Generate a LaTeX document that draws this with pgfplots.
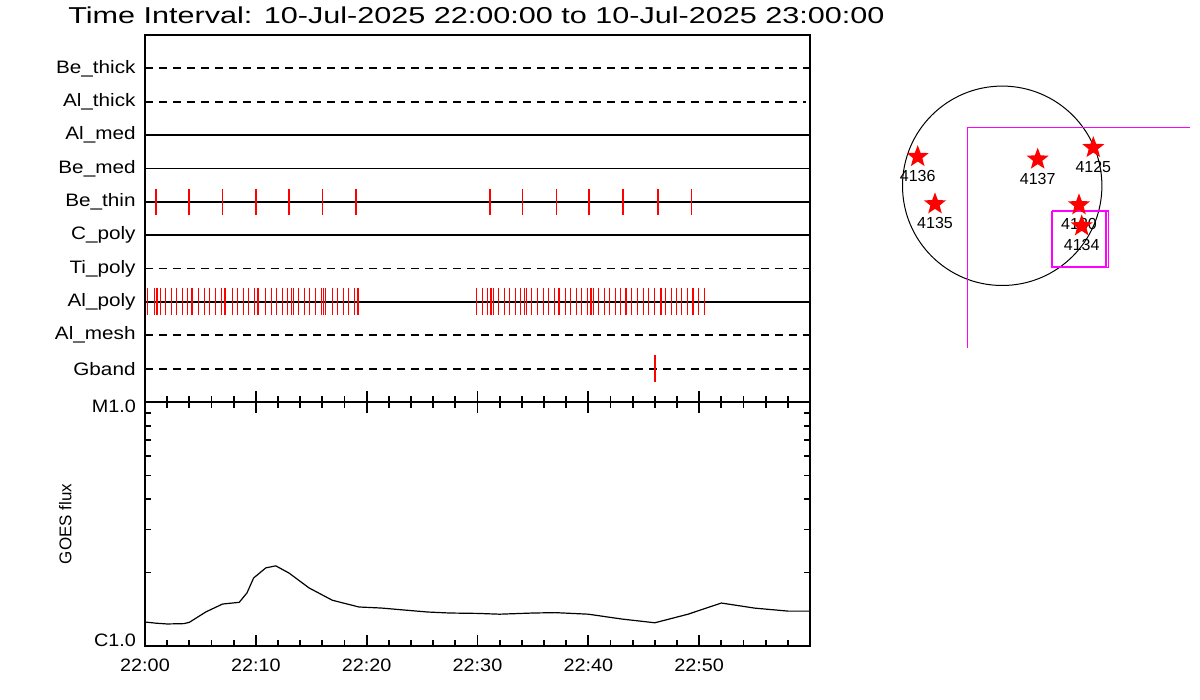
\documentclass[border=0pt]{standalone}
\usepackage{fontspec}
\setmainfont{Liberation Sans}
\usepackage{graphicx}
\usepackage{pgfplots}
\pgfplotsset{compat=1.18}
\definecolor{mag}{RGB}{255,0,255}
\pgfdeclareplotmark{fstar}{%
 \pgfpathmoveto{\pgfpointpolar{90}{\pgfplotmarksize}}%
 \pgfpathlineto{\pgfpointpolar{126}{0.42\pgfplotmarksize}}%
 \pgfpathlineto{\pgfpointpolar{162}{\pgfplotmarksize}}%
 \pgfpathlineto{\pgfpointpolar{198}{0.42\pgfplotmarksize}}%
 \pgfpathlineto{\pgfpointpolar{234}{\pgfplotmarksize}}%
 \pgfpathlineto{\pgfpointpolar{270}{0.42\pgfplotmarksize}}%
 \pgfpathlineto{\pgfpointpolar{306}{\pgfplotmarksize}}%
 \pgfpathlineto{\pgfpointpolar{342}{0.42\pgfplotmarksize}}%
 \pgfpathlineto{\pgfpointpolar{18}{\pgfplotmarksize}}%
 \pgfpathlineto{\pgfpointpolar{54}{0.42\pgfplotmarksize}}%
 \pgfpathclose
 \pgfusepathqfill
}
\newcommand{\lfont}{\fontsize{8.5}{10}\selectfont}
\newcommand{\rl}[1]{\scalebox{1.15}[1]{#1}}
\newcommand{\tl}[1]{\scalebox{1.1}[1]{#1}}
\begin{document}
\begin{tikzpicture}
\useasboundingbox (0,0) rectangle (600pt,350pt);
\node at (238.25pt,342.5pt) {\scalebox{1.33}[1]{\fontsize{11.5}{13}\selectfont Time Interval: 10-Jul-2025 22:00:00 to 10-Jul-2025 23:00:00}};
% ---------------- top panel
\begin{axis}[
  at={(72.5pt,149pt)}, anchor=south west, scale only axis,
  width=332.5pt, height=183.5pt,
  xmin=0, xmax=60, ymin=0, ymax=11,
  xtick={0,10,...,60}, minor x tick num=4, xtick pos=left, xticklabels=\empty,
  ytick={1,...,10},
  yticklabels={\rl{Gband},\rl{Al\_mesh},\rl{Al\_poly},\rl{Ti\_poly},\rl{C\_poly},\rl{Be\_thin},\rl{Be\_med},\rl{Al\_med},\rl{Al\_thick},\rl{Be\_thick}},
  ytick style={draw=none},
  yticklabel style={font=\fontsize{9}{10}\selectfont, xshift=-1.2pt},
  axis line style={line width=0.9pt},
  xtick style={black, line width=0.9pt},
  major tick length=5.5pt, minor tick length=3pt,
  /pgf/number format/assume math mode=true,
]
\addplot[black, line width=0.9pt, dash pattern=on 4pt off 3pt] coordinates {(0,10) (60,10)};
\addplot[black, line width=0.9pt, dash pattern=on 4pt off 3pt] coordinates {(0,9) (59.6,9)};
\addplot[black, line width=0.9pt] coordinates {(0,8) (60,8)};
\addplot[black, line width=0.9pt] coordinates {(0,7) (60,7)};
\addplot[black, line width=0.9pt] coordinates {(0,6) (60,6)};
\addplot[black, line width=0.9pt] coordinates {(0,5) (60,5)};
\addplot[black, line width=0.9pt, dash pattern=on 4pt off 3pt] coordinates {(0,4) (60,4)};
\addplot[black, line width=0.9pt] coordinates {(0,3) (60,3)};
\addplot[black, line width=0.9pt, dash pattern=on 4pt off 3pt] coordinates {(0,2) (60,2)};
\addplot[black, line width=0.9pt, dash pattern=on 4pt off 3pt] coordinates {(0,1) (60,1)};
% Be_thin events
\addplot[red, only marks, mark=|, mark size=6.5pt, mark options={line width=1pt}] coordinates {
 (1.0,6) (4.0,6) (10.0,6) (13.0,6) (19.0,6) (31.1,6) (40.1,6) (43.1,6) (46.3,6)};
\addplot[red, only marks, mark=|, mark size=6.5pt, mark options={line width=0.5pt}] coordinates {
 (7.0,6) (16.0,6) (34.1,6) (37.1,6) (49.3,6)};
% Al_poly events
\addplot[red, only marks, mark=|, mark size=6.7pt, mark options={line width=0.5pt}] coordinates {
 (0.27,3) (0.85,3) (1.39,3) (1.84,3) (2.35,3) (2.84,3) (3.34,3) (3.86,3) (4.19,3) (4.31,3)
 (4.85,3) (5.37,3) (5.84,3) (6.36,3) (6.87,3) (7.86,3) (8.37,3) (8.85,3) (9.37,3) (9.88,3)
 (10.88,3) (11.38,3) (11.87,3) (12.38,3) (12.89,3) (13.19,3) (13.37,3) (13.88,3) (14.4,3) (14.88,3)
 (15.39,3) (15.9,3) (16.14,3) (16.3,3) (16.89,3) (17.41,3) (17.89,3) (18.4,3) (18.92,3)
 (29.9,3) (30.44,3) (30.89,3) (31.44,3) (31.89,3) (32.4,3) (32.92,3) (33.4,3) (33.91,3) (34.27,3)
 (34.42,3) (34.9,3) (35.41,3) (35.93,3) (36.4,3) (36.92,3) (37.91,3) (38.43,3) (38.93,3) (39.42,3)
 (39.93,3) (40.44,3) (40.92,3) (41.44,3) (41.95,3) (42.43,3) (42.94,3) (43.31,3) (43.46,3) (43.94,3)
 (44.44,3) (44.96,3) (45.44,3) (45.95,3) (46.95,3) (47.46,3) (47.96,3) (48.45,3) (48.96,3) (49.95,3)
 (50.47,3)};
\addplot[red, only marks, mark=|, mark size=6.7pt, mark options={line width=1pt}] coordinates {
 (1.12,3) (7.26,3) (10.2,3) (19.21,3) (31.23,3) (37.31,3) (40.26,3) (46.55,3) (49.48,3)};
% Gband event
\addplot[red, only marks, mark=|, mark size=6.7pt, mark options={line width=1pt}] coordinates {(46.04,1)};
\end{axis}
% ---------------- bottom panel
\begin{axis}[
  at={(72.5pt,27pt)}, anchor=south west, scale only axis,
  width=332.5pt, height=122pt,
  xmin=0, xmax=60, ymode=log, ymin=1, ymax=10,
  xtick={0,10,...,60}, minor x tick num=4,
  xticklabels={\tl{22:00},\tl{22:10},\tl{22:20},\tl{22:30},\tl{22:40},\tl{22:50},},
  ytick={1,10}, minor ytick={2,3,4,5,6,7,8,9},
  yticklabels={\raisebox{-0.5pt}[0pt][0pt]{\tl{C1.0}},\raisebox{-5.5pt}[0pt][0pt]{\tl{M1.0}}},
  tick label style={font=\fontsize{9}{10}\selectfont},
  xticklabel style={yshift=-3pt},
  yticklabel style={xshift=-1pt},
  ylabel={GOES flux},
  ylabel style={at={(axis description cs:-0.12,0.5)}, anchor=center, font=\lfont},
  axis line style={line width=0.9pt},
  tick style={black, line width=0.9pt},
  major tick length=5.5pt, minor tick length=3pt,
  /pgf/number format/assume math mode=true,
]
\addplot[black, line width=0.6pt] coordinates {
 (0,1.254) (1,1.24) (2,1.231) (3.5,1.235) (4,1.25) (5.5,1.38) (7,1.486) (8.5,1.51)
 (9.2,1.65) (9.8,1.90) (10.9,2.09) (11.8,2.13) (13,1.99) (14.8,1.73) (16.9,1.54)
 (19.3,1.445) (21.3,1.431) (23.4,1.404) (25.5,1.378) (27.5,1.365) (30,1.36) (32,1.35)
 (35,1.365) (37,1.37) (40,1.35) (43,1.29) (46,1.245) (49,1.35) (52,1.50) (55,1.43)
 (58,1.39) (60,1.39)};
\end{axis}
% ---------------- right panel (map)
\begin{axis}[
  at={(440pt,160pt)}, anchor=south west, scale only axis,
  width=160pt, height=160pt,
  xmin=880, xmax=1200, ymin=320, ymax=640,
  axis lines=none, clip=false,
]
\draw[black, line width=0.5pt] (axis cs:1002.2,514.2) circle[radius=99.7];
\addplot[mag, line width=0.6pt] coordinates {(967.3,351.7) (967.3,572.7) (1190,572.7)};
\addplot[mag, line width=0.6pt] coordinates {(1051.7,489) (1108.3,489) (1108.3,432.7) (1051.7,432.7) (1051.7,489)};
\addplot[mag, line width=0.6pt] coordinates {(1052.3,488.3) (1106,488.3) (1106,433.3) (1052.3,433.3) (1052.3,488.3)};
\addplot[red, only marks, mark=fstar, mark size=5.8pt,
  nodes near coords, point meta=explicit symbolic,
  every node near coord/.append style={text=black, anchor=center, yshift=-9.7pt, font=\fontsize{8}{9}\selectfont}]
 table[meta=label] {
x y label
917.7 543.3 4136
1037.7 540.7 4137
1093.3 552.3 4125
935 496 4135
1079 495 4130
1081.7 474 4134
};
\end{axis}
\end{tikzpicture}
\end{document}
